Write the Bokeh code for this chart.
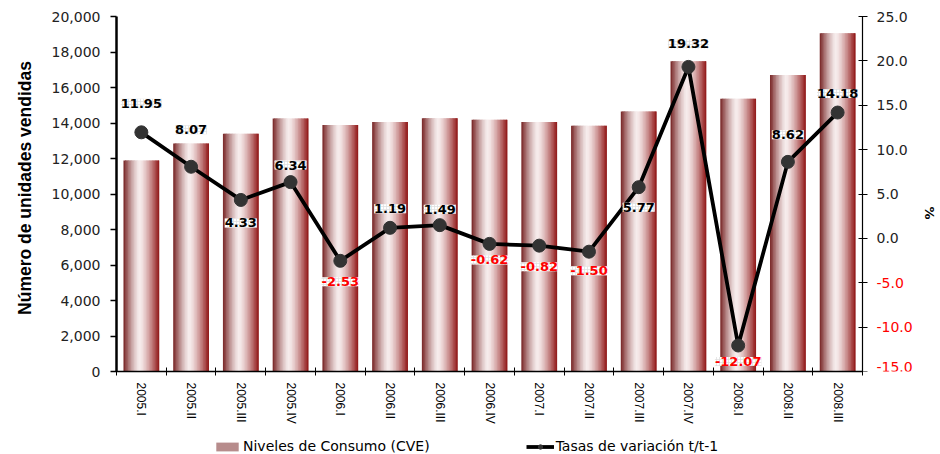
import math
from bokeh.plotting import figure
from bokeh.layouts import column
from bokeh.models import (Range1d, LinearAxis, FixedTicker, NumeralTickFormatter,
                          Legend, LegendItem, ColumnDataSource)
from bokeh.core.properties import value
from bokeh.embed import file_html
from bokeh.resources import INLINE

# ---------------- data ----------------
quarters = ["2005.I", "2005.II", "2005.III", "2005.IV", "2006.I", "2006.II", "2006.III",
            "2006.IV", "2007.I", "2007.II", "2007.III", "2007.IV", "2008.I", "2008.II", "2008.III"]
units = [11890, 12850, 13400, 14250, 13890, 14060, 14270, 14180,
         14060, 13850, 14650, 17480, 15370, 16700, 19060]
rates = [11.95, 8.07, 4.33, 6.34, -2.53, 1.19, 1.49, -0.62,
         -0.82, -1.50, 5.77, 19.32, -12.07, 8.62, 14.18]
left_ticks = [0, 2000, 4000, 6000, 8000, 10000, 12000, 14000, 16000, 18000, 20000]
right_ticks = [-15, -10, -5, 0, 5, 10, 15, 20, 25]

# label placement (style): screen px offset of each rate label, positive = down
label_dy = [-29, -37, 23, -17, 21, -19, -16, 16, 21, 19, 20, -23, 16, -27, -19]

FONT = "DejaVu Sans"
NARROW = "'Liberation Sans Narrow', 'Liberation Sans'"

W, H_MAIN, H_LEG = 940, 429, 25
FRAME_L, FRAME_R_AXIS = 116, 862          # left axis / right axis positions (px)
AXIS_TOP, AXIS_BOTTOM = 16, 371           # top / bottom of the value axes (px)
TOP_PAD = 12                              # extra frame room above the axes' top

idx = list(range(len(quarters)))
x_end = len(quarters) - 0.5
px_per_cat = (FRAME_R_AXIS - FRAME_L) / len(quarters)
x_view_end = x_end + (W - FRAME_R_AXIS) / px_per_cat   # frame continues into the right margin
axis_px = AXIS_BOTTOM - AXIS_TOP
l_top = left_ticks[-1] + TOP_PAD * (left_ticks[-1] - left_ticks[0]) / axis_px
r_top = right_ticks[-1] + TOP_PAD * (right_ticks[-1] - right_ticks[0]) / axis_px

p = figure(width=W, height=H_MAIN,
           x_range=Range1d(-0.5, x_view_end),
           y_range=Range1d(left_ticks[0], l_top),
           output_backend="svg", toolbar_location=None,
           min_border_left=FRAME_L, min_border_right=0,
           min_border_top=AXIS_TOP - TOP_PAD, min_border_bottom=H_MAIN - AXIS_BOTTOM,
           outline_line_color=None, background_fill_color="white", border_fill_color="white")
p.extra_y_ranges = {"pct": Range1d(right_ticks[0], r_top)}
p.grid.visible = False

# ---------------- gradient bars (vertical slices) ----------------
bar_w = 0.72
n_sl = 24
sw = bar_w / n_sl
left_c = (118, 34, 34)
mid_c = (247, 237, 237)
right_c = (142, 18, 18)
center_u = 0.45


def mix(a, b, t):
    return tuple(int(round(a[j] + (b[j] - a[j]) * t)) for j in range(3))


for k in range(n_sl):
    u = (k + 0.5) / n_sl
    if u < center_u:
        t = (center_u - u) / center_u
        c = mix(mid_c, left_c, t ** 1.4)
    else:
        t = (u - center_u) / (1 - center_u)
        c = mix(mid_c, right_c, t ** 1.4)
    col = "#%02x%02x%02x" % c
    ext = 1.0 if k == n_sl - 1 else 1.8
    lefts = [i - bar_w / 2 + k * sw for i in idx]
    src = ColumnDataSource(dict(left=lefts, right=[l + sw * ext for l in lefts], top=units))
    p.quad(left="left", right="right", top="top", bottom=0, source=src,
           fill_color=col, line_color=None)

# ---------------- line ----------------
lsrc = ColumnDataSource(dict(x=idx, y=rates,
                             lab=["%.2f" % v for v in rates],
                             col=["black" if v >= 0 else "#ff0000" for v in rates],
                             dy=label_dy))
p.line("x", "y", source=lsrc, y_range_name="pct", line_color="black", line_width=3.8)
p.scatter("x", "y", source=lsrc, y_range_name="pct", size=13,
          fill_color="#333333", line_color="#333333")

p.text("x", "y", text="lab", source=lsrc, y_range_name="pct", y_offset="dy",
       text_align="center", text_baseline="middle", text_color="col",
       text_font=value(FONT), text_font_size="13px", text_font_style="bold",
       background_fill_color="white", background_hatch_pattern="+",
       background_hatch_color="#dcdcdc", background_hatch_scale=3,
       background_hatch_weight=0.7)

# ---------------- axes ----------------
yl = p.yaxis[0]
yl.bounds = (left_ticks[0], left_ticks[-1])
yl.ticker = FixedTicker(ticks=left_ticks)
yl.formatter = NumeralTickFormatter(format="0,0")
yl.axis_label = "Número de unidades vendidas"
yl.axis_label_text_font = "Liberation Sans"
yl.axis_label_text_font_size = "17.5px"
yl.axis_label_text_font_style = "bold"
yl.axis_label_text_color = "black"
yl.axis_label_standoff = 14
yl.major_label_text_font = FONT
yl.major_label_text_font_size = "14px"
yl.major_label_text_color = "#222222"
yl.axis_line_width = 2.5
yl.axis_line_color = "black"
yl.major_tick_line_color = "black"
yl.major_tick_line_width = 1.5
yl.major_tick_out = 6
yl.major_tick_in = 0
yl.minor_tick_line_color = None
yl.major_label_standoff = 10

# right axis line and ticks, pinned at the end of the categories
yr = LinearAxis(y_range_name="pct", fixed_location=x_end)
yr.bounds = (right_ticks[0], right_ticks[-1])
yr.ticker = FixedTicker(ticks=right_ticks)
yr.major_label_text_color = None
yr.axis_line_color = "black"
yr.axis_line_width = 1.2
yr.major_tick_line_color = "black"
yr.major_tick_out = 5
yr.major_tick_in = 4
yr.minor_tick_line_color = None
p.add_layout(yr, "right")

# right axis tick labels (black for >= 0, red for < 0) and its title
pos_ticks = [t for t in right_ticks if t >= 0 and t != right_ticks[0]]
rsrc = ColumnDataSource(dict(x=[x_end] * len(right_ticks), y=right_ticks,
                             t=["%.1f" % t for t in right_ticks],
                             c=["#222222" if t >= 0 else "#ff0000" for t in right_ticks],
                             b=["bottom" if t == right_ticks[0] else "middle" for t in right_ticks]))
p.text("x", "y", text="t", source=rsrc, y_range_name="pct", x_offset=14,
       text_align="left", text_baseline="b", text_color="c",
       text_font=value(FONT), text_font_size="14px")
p.text(x=[x_end], y=[(right_ticks[0] + right_ticks[-1]) / 2], text=["%"], y_range_name="pct",
       x_offset=67, y_offset=19, angle=-math.pi / 2, text_align="center",
       text_baseline="middle", text_color="black", text_font=value(FONT),
       text_font_size="13px", text_font_style="bold")

xa = p.xaxis[0]
xa.bounds = (-0.5, x_end)
xa.ticker = FixedTicker(ticks=idx, minor_ticks=[i - 0.5 for i in idx] + [x_end])
xa.major_label_overrides = {i: q for i, q in zip(idx, quarters)}
xa.major_label_orientation = "vertical"
xa.major_label_text_font = NARROW
xa.major_label_text_font_size = "12px"
xa.major_label_text_color = "black"
xa.major_tick_line_color = None
xa.major_tick_out = 4
xa.major_label_standoff = 7
xa.minor_tick_line_color = "black"
xa.minor_tick_in = 4
xa.minor_tick_out = 4
xa.axis_line_color = "black"
xa.axis_line_width = 1.5

# ---------------- legend (separate strip below the chart) ----------------
p2 = figure(width=W, height=H_LEG, x_range=Range1d(0, 1), y_range=Range1d(0, 1),
            output_backend="svg", toolbar_location=None,
            min_border_left=0, min_border_right=0, min_border_top=0, min_border_bottom=0,
            outline_line_color=None, background_fill_color="white", border_fill_color="white")
p2.axis.visible = False
p2.grid.visible = False
# legend proxies, kept outside the visible range of the strip
leg_bar = p2.quad(left=[5], right=[6], top=[6], bottom=[5], fill_color="#b78c8c", line_color=None)
leg_line = p2.line(x=[5, 6], y=[5, 5], line_color="black", line_width=3.8)
leg_pt = p2.scatter(x=[5], y=[5], size=11, fill_color="#333333", line_color="#333333")

legend = Legend(items=[LegendItem(label="Niveles de Consumo (CVE)", renderers=[leg_bar]),
                       LegendItem(label="Tasas de variación t/t-1", renderers=[leg_line, leg_pt])],
                orientation="horizontal", location=(97, 0),
                label_text_font=FONT, label_text_font_size="14px", label_text_color="black",
                glyph_width=28, glyph_height=11, spacing=96, label_standoff=2,
                border_line_color=None, background_fill_alpha=0, padding=0, margin=0)
p2.add_layout(legend, "center")

layout = column(p, p2, spacing=0)
open("out.html", "w").write(file_html(layout, INLINE))
